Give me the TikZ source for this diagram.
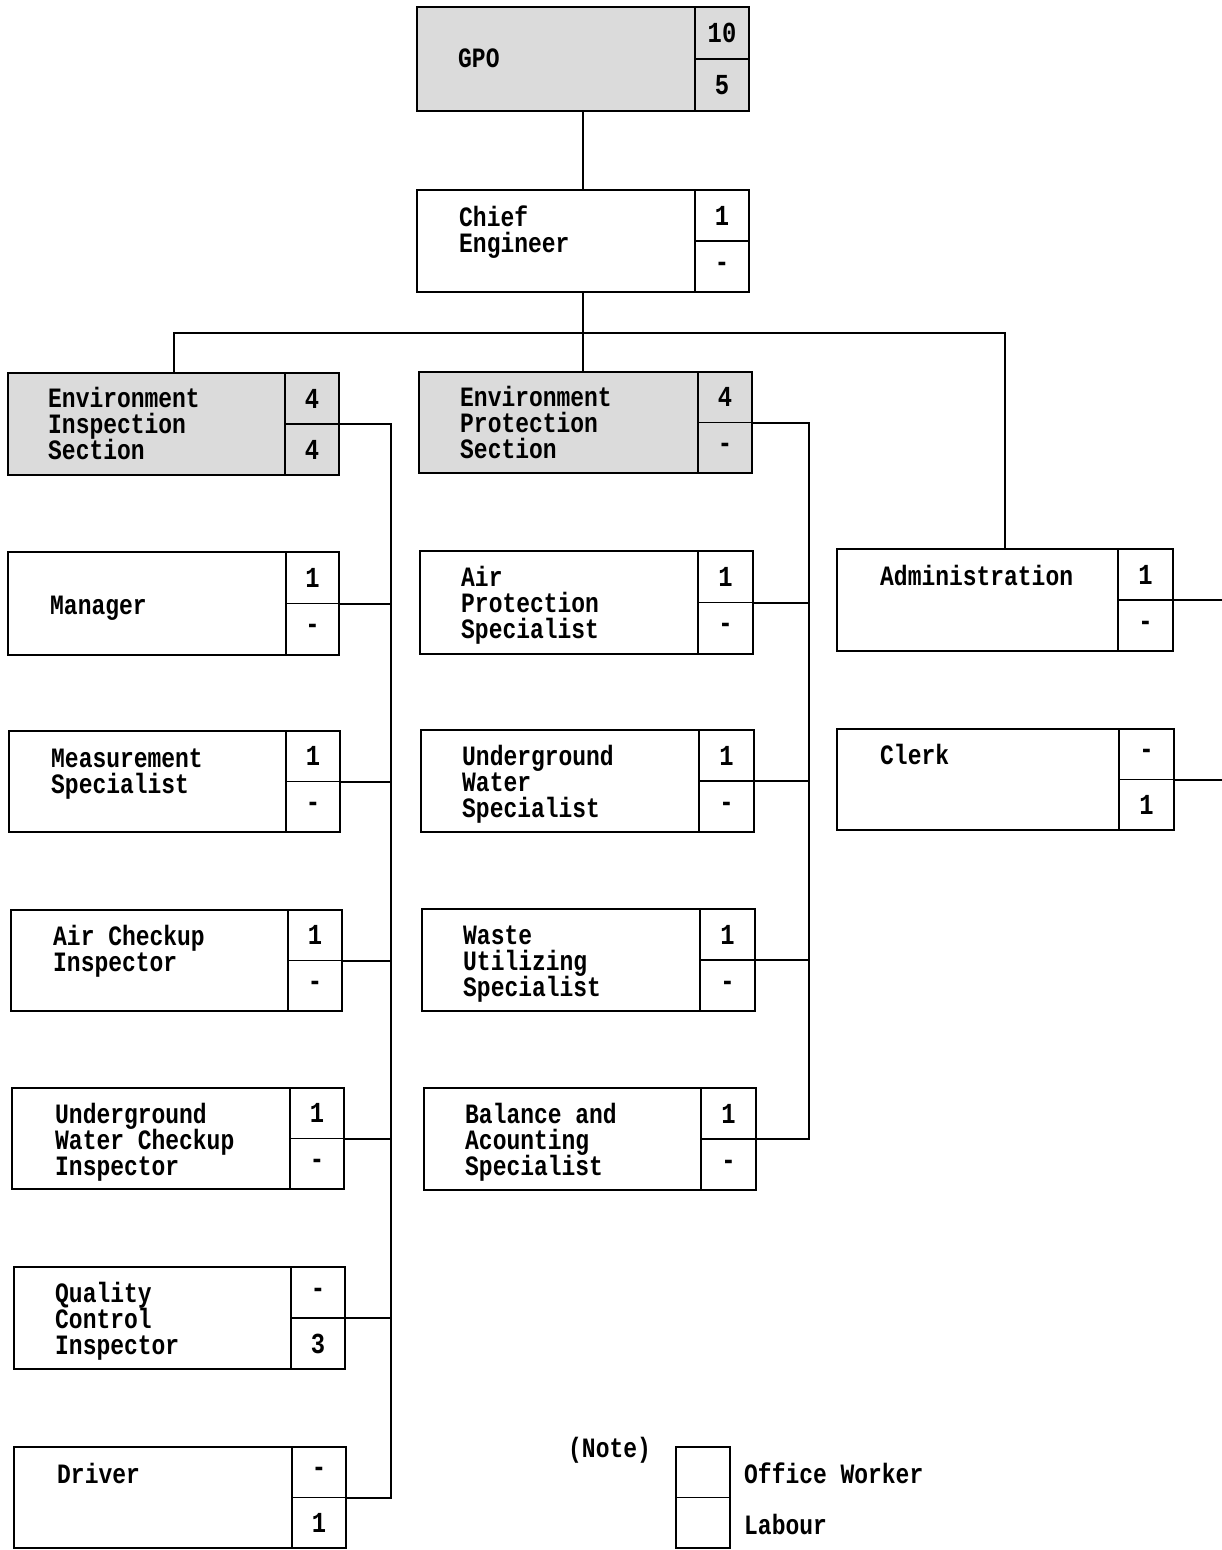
\documentclass[tikz,border=0pt]{standalone}
\usepackage{fontspec}
\setmainfont{Liberation Mono}[FakeStretch=0.82]
\tikzset{
  orgbox/.style={draw, line width=2.6pt, rectangle, inner sep=0pt, outer sep=0pt, anchor=north west},
  shaded/.style={fill=black!14},
  cellline/.style={line width=2.6pt},
  divline/.style={line width=1.2pt},
  conn/.style={line width=2pt},
  lbl/.style={font=\fontsize{28}{26}\selectfont\bfseries, inner sep=0pt, anchor=base west},
  num/.style={font=\fontsize{29}{26}\selectfont\bfseries, inner sep=0pt},
}
% #1 extra style, #2 name, #3 x1, #4 y1, #5 x2, #6 y2, #7 xdiv, #8 top, #9 bottom
\newcommand\obox[9][]{%
  \node[orgbox,#1,minimum width={(#5-#3)*1pt},minimum height={(#6-#4)*1pt}] (#2) at (#3,#4) {};
  \draw[cellline] (#7,#4) -- (#7,#6);
  \draw[divline] (#7,{(#4+#6)/2}) -- (#5,{(#4+#6)/2});
  \node[num] (#2-a) at ({(#7+#5)/2},{#4+(#6-#4)/4}) {#8};
  \node[num] (#2-b) at ({(#7+#5)/2},{#4+3*(#6-#4)/4}) {#9};
}
\newcommand\otext[4]{% name, x, baseline y, text
  \node[lbl] (#1) at (#2,#3) {\parbox[t]{240pt}{\lineskiplimit=-100pt\baselineskip=26pt #4}};
}
\begin{document}
\begin{tikzpicture}[x=1pt,y=-1pt]
\useasboundingbox (0,0) rectangle (1222,1550);

% boxes
\obox[shaded]{gpo}{417}{7}{749}{111}{695}{10}{5}
\obox{chief}{417}{190}{749}{292}{695}{1}{-}
\obox[shaded]{eis}{8}{373}{339}{475}{285}{4}{4}
\obox[shaded]{eps}{419}{372}{752}{473}{698}{4}{-}
\obox{mgr}{8}{552}{339}{655}{286}{1}{-}
\obox{meas}{9}{731}{340}{832}{286}{1}{-}
\obox{airc}{11}{910}{342}{1011}{288}{1}{-}
\obox{uwci}{12}{1088}{344}{1189}{290}{1}{-}
\obox{qci}{14}{1267}{345}{1369}{291}{-}{3}
\obox{drv}{14}{1447}{346}{1548}{292}{-}{1}
\obox{airp}{420}{551}{753}{654}{698}{1}{-}
\obox{uws}{421}{730}{754}{832}{699}{1}{-}
\obox{waste}{422}{909}{755}{1011}{700}{1}{-}
\obox{bal}{424}{1088}{756}{1190}{701}{1}{-}
\obox{adm}{837}{549}{1173}{651}{1118}{1}{-}
\obox{clerk}{837}{729}{1174}{830}{1119}{-}{1}

% texts
\otext{gpo-t}{458}{67}{GPO}
\otext{chief-t}{459}{226}{Chief\\Engineer}
\otext{eis-t}{48}{407}{Environment\\Inspection\\Section}
\otext{eps-t}{460}{406}{Environment\\Protection\\Section}
\otext{mgr-t}{50}{614}{Manager}
\otext{meas-t}{51}{767}{Measurement\\Specialist}
\otext{airc-t}{53}{945}{Air Checkup\\Inspector}
\otext{uwci-t}{55}{1123}{Underground\\Water Checkup\\Inspector}
\otext{qci-t}{55}{1302}{Quality\\Control\\Inspector}
\otext{drv-t}{57}{1483}{Driver}
\otext{airp-t}{461}{586}{Air\\Protection\\Specialist}
\otext{uws-t}{462}{765}{Underground\\Water\\Specialist}
\otext{waste-t}{463}{944}{Waste\\Utilizing\\Specialist}
\otext{bal-t}{465}{1123}{Balance and\\Acounting\\Specialist}
\otext{adm-t}{880}{585}{Administration}
\otext{clerk-t}{880}{764}{Clerk}

% connectors
\coordinate (bus) at (587,333);
\coordinate (lspine) at (391,0);
\coordinate (rspine) at (809,0);
\coordinate (redge) at (1222,0);
\draw[line width=2.8pt] (gpo.south) -- (chief.north);
\draw[conn] (chief.south) -- (chief.south |- eps.north);
\draw[conn] (eis.north) -- (eis.north |- bus) -- (adm.north |- bus) -- (adm.north);

\draw[conn] (eis.east) -- (eis.east -| lspine) -- (drv.east -| lspine) -- (drv.east);
\foreach \n in {mgr,meas,airc,uwci,qci}
  \draw[conn] (\n.east) -- (\n.east -| lspine);

\draw[conn] (eps.east) -- (eps.east -| rspine) -- (bal.east -| rspine) -- (bal.east);
\foreach \n in {airp,uws,waste}
  \draw[conn] (\n.east) -- (\n.east -| rspine);

\draw[conn] (adm.east) -- (adm.east -| redge);
\draw[conn] (clerk.east) -- (clerk.east -| redge);

% legend
\node[orgbox,minimum width=54pt,minimum height=101pt] (legend) at (676,1447) {};
\draw[divline] (legend.west) -- (legend.east);
\node[lbl] (note) at (568,1457) {(Note)};
\node[lbl] (office) at (744,1483) {Office Worker};
\node[lbl] (labour) at (744,1534) {Labour};
\end{tikzpicture}
\end{document}
